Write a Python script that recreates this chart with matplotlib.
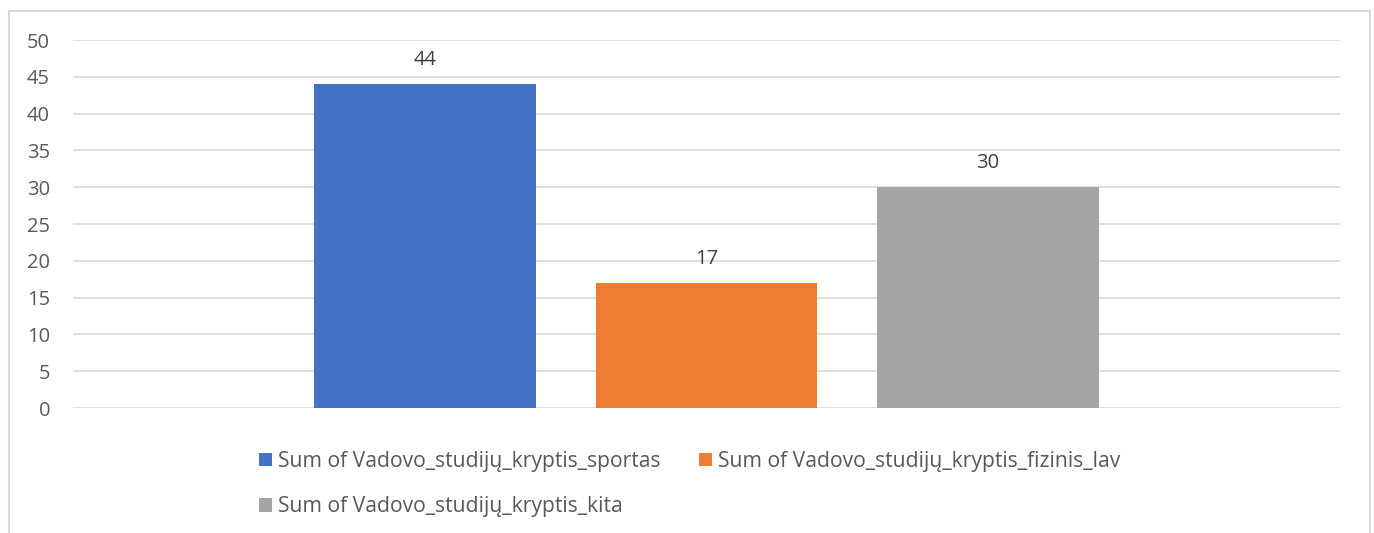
import matplotlib
matplotlib.use("Agg")
import matplotlib.pyplot as plt
from matplotlib.patches import Rectangle, Patch
import numpy as np

series = ["Sum of Vadovo_studijų_kryptis_sportas",
          "Sum of Vadovo_studijų_kryptis_fizinis_lav",
          "Sum of Vadovo_studijų_kryptis_kita"]
values = [44, 17, 30]
colors = ["#4472C4", "#ED7D31", "#A5A5A5"]
yticks = [0, 5, 10, 15, 20, 25, 30, 35, 40, 45, 50]

plt.rcParams['font.family'] = ['Open Sans', 'DejaVu Sans']
txt = "#595959"

W, H = 1374, 533
fig = plt.figure(figsize=(W/100, H/100), dpi=100)
fig.patches.append(Rectangle((9/W, -0.05), (1370-9)/W, 1.05 - 11/H, transform=fig.transFigure,
                             fill=False, edgecolor="#d9d9d9", linewidth=1.5))
ax = fig.add_axes([73/W, 1-408/H, (1340-73)/W, (408-40)/H])

spacing = 0.2218
width = 0.1752
xs = (np.arange(len(values)) - 1) * spacing
bars = ax.bar(xs, values, width=width, color=colors, zorder=3)
for x, v in zip(xs, values):
    ax.annotate(str(v), (x, v), xytext=(0, 17.5), textcoords="offset points",
                ha="center", va="center", fontsize=14.5, color="#404040")

ax.set_xlim(-0.5, 0.5)
ax.set_ylim(0, 50)
ax.set_yticks(yticks)
ax.set_xticks([])
ax.grid(axis="y", color="#d9d9d9", linewidth=1.2, zorder=0)
for s in ax.spines.values():
    s.set_visible(False)
ax.tick_params(axis="y", length=0, pad=16.5, labelsize=14.5, labelcolor=txt)
for lab in ax.get_yticklabels():
    lab.set_horizontalalignment("right")

handles = [Patch(facecolor=c) for c in colors]
order = [0, 2, 1]
leg = fig.legend([handles[i] for i in order], [series[i] for i in order], ncol=2,
                 loc="upper left", bbox_to_anchor=(259/W, 1-451/H), frameon=False,
                 fontsize=15.2, handlelength=0.62, handleheight=0.62, handletextpad=0.3,
                 columnspacing=1.8, labelspacing=1.15, borderpad=0, borderaxespad=0)
for t in leg.get_texts():
    t.set_color(txt)

fig.savefig("out.png", dpi=100, facecolor="white")
